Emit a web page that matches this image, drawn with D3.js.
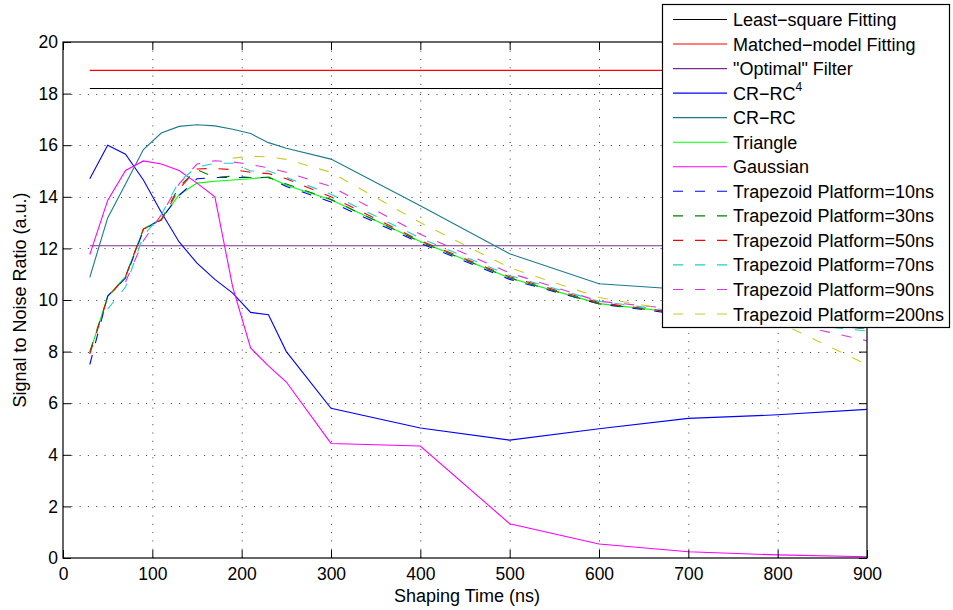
<!DOCTYPE html>
<html>
<head>
<meta charset="utf-8">
<script src="https://cdn.jsdelivr.net/npm/d3@7"></script>
<style>
  body { margin: 0; background: #fff; }
  svg text { font-family: "Liberation Sans", Arial, sans-serif; fill: #000; }
</style>
</head>
<body>
<svg width="953" height="610"></svg>
<script>
const shapingTimes = [30, 50, 70, 90, 110, 130, 150, 170, 190, 210, 230, 250, 300, 400, 500, 600, 700, 800, 900];

const leastSquare = 18.2;
const matchedModel = 18.9;
const optimalFilter = 12.1;

const crRc4    = [14.7, 16.0, 15.65, 14.65, 13.4, 12.25, 11.43, 10.8, 10.27, 9.52, 9.43, 8.0, 5.8, 5.04, 4.57, 5.01, 5.41, 5.55, 5.76];
const crRc     = [10.88, 13.18, 14.5, 15.83, 16.47, 16.73, 16.79, 16.75, 16.62, 16.45, 16.1, 15.88, 15.46, 13.65, 11.79, 10.63, 10.4, 10.15, 9.9];
const triangle = [7.95, 10.14, 10.91, 12.75, 13.14, 14.08, 14.53, 14.6, 14.65, 14.7, 14.77, 14.45, 13.89, 12.27, 10.85, 9.86, 9.47, 9.15, 8.95];
const gaussian = [11.76, 13.86, 15.02, 15.39, 15.27, 15.02, 14.53, 14.0, 10.5, 8.14, 7.45, 6.82, 4.44, 4.34, 1.33, 0.54, 0.24, 0.12, 0.05];
const trap10   = [7.5, 10.15, 10.85, 12.7, 13.15, 14.05, 14.7, 14.75, 14.75, 14.75, 14.75, 14.4, 13.8, 12.2, 10.8, 9.85, 9.4, 9.1, 8.9];
const trap30   = [8.0, 10.1, 10.9, 12.75, 13.1, 14.4, 15.05, 14.75, 14.8, 14.75, 14.75, 14.5, 13.9, 12.25, 10.85, 9.85, 9.45, 9.15, 8.9];
const trap50   = [7.9, 10.1, 10.9, 12.75, 13.1, 14.3, 15.08, 15.1, 15.05, 14.95, 14.9, 14.7, 14.0, 12.3, 10.9, 9.9, 9.45, 9.15, 8.95];
const trap70   = [null, 9.65, 10.5, 12.5, 13.3, 14.6, 15.15, 15.3, 15.3, 15.0, 15.0, 14.75, 14.1, 12.4, 10.95, 9.95, 9.5, 9.15, 8.8];
const trap90   = [null, null, 10.7, 12.3, 13.3, 14.5, 15.27, 15.4, 15.35, 15.25, 15.12, 14.95, 14.4, 12.55, 11.05, 9.95, 9.6, 9.2, 8.42];
const trap200  = [null, null, null, null, null, null, null, null, 15.5, 15.57, 15.55, 15.45, 14.95, 13.0, 11.25, 10.1, 9.5, 9.15, 7.5];

const xTicks = [0, 100, 200, 300, 400, 500, 600, 700, 800, 900];
const yTicks = [0, 2, 4, 6, 8, 10, 12, 14, 16, 18, 20];

const flat = v => shapingTimes.map(() => v);

const series = [
  { name: "Least\u2212square Fitting", values: flat(leastSquare), color: "#000000", dash: null },
  { name: "Matched\u2212model Fitting", values: flat(matchedModel), color: "#ff0000", dash: null },
  { name: "\"Optimal\" Filter", values: flat(optimalFilter), color: "#7e2f8e", dash: null },
  { name: "CR\u2212RC", sup: "4", values: crRc4, color: "#0000ff", dash: null },
  { name: "CR\u2212RC", values: crRc, color: "#1a7a8c", dash: null },
  { name: "Triangle", values: triangle, color: "#00ff00", dash: null },
  { name: "Gaussian", values: gaussian, color: "#ff00ff", dash: null },
  { name: "Trapezoid Platform=10ns", values: trap10, color: "#0000ff", dash: "10,12" },
  { name: "Trapezoid Platform=30ns", values: trap30, color: "#007f00", dash: "10,12" },
  { name: "Trapezoid Platform=50ns", values: trap50, color: "#ff0000", dash: "10,12" },
  { name: "Trapezoid Platform=70ns", values: trap70, color: "#22cccc", dash: "10,12" },
  { name: "Trapezoid Platform=90ns", values: trap90, color: "#dd33dd", dash: "10,12" },
  { name: "Trapezoid Platform=200ns", values: trap200, color: "#cccc22", dash: "10,12" }
];

const svg = d3.select("svg");
const margin = { left: 63, top: 42, right: 867, bottom: 558 };

const x = d3.scaleLinear().domain([0, 900]).range([margin.left, margin.right]);
const y = d3.scaleLinear().domain([0, 20]).range([margin.bottom, margin.top]);

// grid
const grid = svg.append("g").attr("stroke", "#222").attr("stroke-width", 0.9).attr("stroke-dasharray", "1,7.3");
grid.selectAll(".gx").data(xTicks.slice(1, -1)).join("line")
  .attr("x1", d => x(d) + 0.5).attr("x2", d => x(d) + 0.5)
  .attr("y1", margin.bottom).attr("y2", margin.top);
grid.selectAll(".gy").data(yTicks.slice(1, -1)).join("line")
  .attr("y1", d => Math.round(y(d)) + 0.5).attr("y2", d => Math.round(y(d)) + 0.5)
  .attr("x1", margin.left).attr("x2", margin.right);

// series
const line = d3.line()
  .defined(d => d[1] != null)
  .x(d => x(d[0]))
  .y(d => y(d[1]));

svg.append("g").selectAll("path").data(series).join("path")
  .attr("d", s => line(shapingTimes.map((t, i) => [t, s.values[i]])))
  .attr("fill", "none")
  .attr("stroke", s => s.color)
  .attr("stroke-width", 1.1)
  .attr("stroke-dasharray", s => s.dash);

// axes
const tickLen = 8;
svg.append("g").attr("transform", `translate(0,${margin.bottom})`)
  .call(d3.axisBottom(x).tickValues(xTicks).tickSizeInner(-tickLen).tickSizeOuter(0).tickPadding(10))
  .call(g => g.select(".domain").remove());
svg.append("g").attr("transform", `translate(0,${margin.top})`)
  .call(d3.axisTop(x).tickValues(xTicks).tickSizeInner(-tickLen).tickSizeOuter(0).tickFormat(""))
  .call(g => g.select(".domain").remove());
svg.append("g").attr("transform", `translate(${margin.left},0)`)
  .call(d3.axisLeft(y).tickValues(yTicks).tickSizeInner(-tickLen).tickSizeOuter(0).tickPadding(5))
  .call(g => g.select(".domain").remove());
svg.append("g").attr("transform", `translate(${margin.right},0)`)
  .call(d3.axisRight(y).tickValues(yTicks).tickSizeInner(-tickLen).tickSizeOuter(0).tickFormat(""))
  .call(g => g.select(".domain").remove());

svg.selectAll(".tick text").attr("font-size", 17.5).attr("font-family", "Liberation Sans, Arial, sans-serif");
svg.selectAll(".tick line").attr("stroke", "#000");

svg.append("rect")
  .attr("x", margin.left).attr("y", margin.top)
  .attr("width", margin.right - margin.left).attr("height", margin.bottom - margin.top)
  .attr("fill", "none").attr("stroke", "#000").attr("stroke-width", 1.2);

svg.append("text")
  .attr("x", (margin.left + margin.right) / 2 + 2).attr("y", 602)
  .attr("text-anchor", "middle").attr("font-size", 18)
  .text("Shaping Time (ns)");

svg.append("text")
  .attr("transform", `translate(26,${(margin.top + margin.bottom) / 2}) rotate(-90)`)
  .attr("text-anchor", "middle").attr("font-size", 18)
  .text("Signal to Noise Ratio (a.u.)");

// legend
const legend = svg.append("g");
legend.append("rect")
  .attr("x", 662.5).attr("y", 4.5).attr("width", 287).attr("height", 323)
  .attr("fill", "#fff").attr("stroke", "#000").attr("stroke-width", 1.2);

const rowY = d3.scaleLinear().domain([0, 12]).range([19.5, 314]);
const rows = legend.selectAll(".row").data(series).join("g")
  .attr("transform", (s, i) => `translate(0,${rowY(i)})`);
rows.append("line")
  .attr("x1", 673).attr("x2", 727).attr("y1", 0).attr("y2", 0)
  .attr("stroke", s => s.color).attr("stroke-width", 1.1)
  .attr("stroke-dasharray", s => s.dash ? "10,12" : null);
const labels = rows.append("text")
  .attr("x", 733).attr("y", 6.5).attr("font-size", 18);
labels.append("tspan").text(s => s.name);
labels.filter(s => s.sup).append("tspan")
  .attr("font-size", 12).attr("dy", -9).text(s => s.sup);
</script>
</body>
</html>
